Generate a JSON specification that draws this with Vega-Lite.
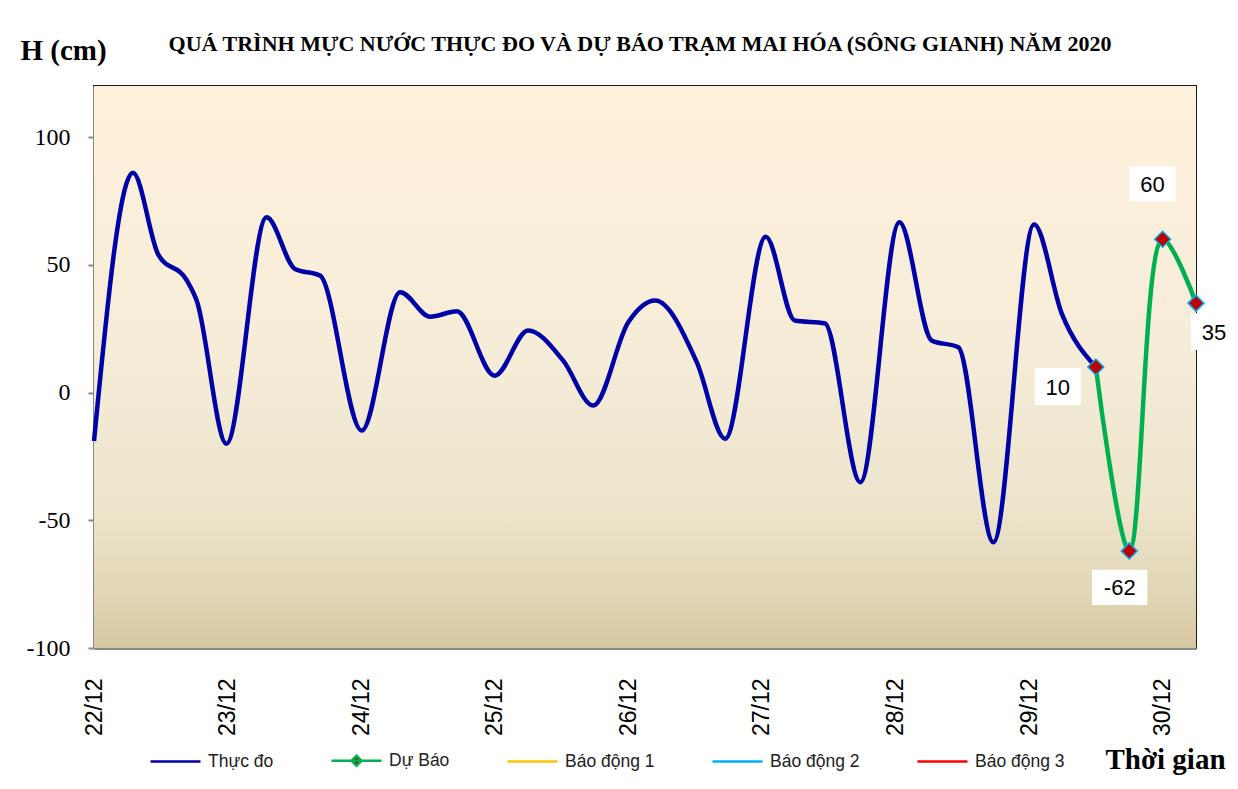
{
  "$schema": "https://vega.github.io/schema/vega-lite/v6.json",
  "autosize": "none",
  "width": 1102,
  "height": 562,
  "padding": {"left": 94, "top": 86, "right": 42, "bottom": 141},
  "background": "white",
  "config": {
    "view": {"stroke": "#1a1a1a", "strokeWidth": 2}
  },
  "title": {
    "text": "QUÁ TRÌNH MỰC NƯỚC THỰC ĐO VÀ DỰ BÁO TRẠM MAI HÓA (SÔNG GIANH) NĂM  2020",
    "font": "Liberation Serif",
    "fontSize": 22,
    "fontWeight": "bold",
    "color": "#000000",
    "anchor": "middle",
    "frame": "group",
    "dx": -5,
    "offset": -20
  },
  "datasets": {
    "obs": [
      {"h": 0, "v": -19},
      {"h": 7, "v": 86},
      {"h": 11.55, "v": 54},
      {"h": 16.65, "v": 44},
      {"h": 18.45, "v": 36},
      {"h": 23.8, "v": -20},
      {"h": 31, "v": 68.6},
      {"h": 36.1, "v": 48.4},
      {"h": 40.6, "v": 45.8},
      {"h": 48.1, "v": -14.9},
      {"h": 55, "v": 39.3},
      {"h": 60.4, "v": 29.7},
      {"h": 65.2, "v": 31.8},
      {"h": 72, "v": 6.6},
      {"h": 78, "v": 24.3},
      {"h": 84.3, "v": 12.5},
      {"h": 89.7, "v": -5.1},
      {"h": 96, "v": 27.5},
      {"h": 100.8, "v": 36},
      {"h": 108.3, "v": 11.9},
      {"h": 113.4, "v": -18.1},
      {"h": 120.7, "v": 61},
      {"h": 125.9, "v": 28.2},
      {"h": 131.3, "v": 27.1},
      {"h": 137.7, "v": -35.1},
      {"h": 144.7, "v": 66.7},
      {"h": 150.5, "v": 20.4},
      {"h": 155.3, "v": 17.7},
      {"h": 161.6, "v": -58.6},
      {"h": 168.9, "v": 65.8},
      {"h": 173.9, "v": 30.8},
      {"h": 180, "v": 10}
    ],
    "fc": [
      {"h": 180, "v": 10},
      {"h": 186, "v": -62},
      {"h": 192, "v": 60},
      {"h": 198, "v": 35}
    ]
  },
  "layer": [
    {
      "data": {"values": [{}]},
      "mark": {"type": "rect", "color": {"gradient": "linear", "x1": 0, "y1": 0, "x2": 0, "y2": 1,
        "stops": [
          {"offset": 0, "color": "#FEF1DC"},
          {"offset": 0.5, "color": "#F5ECD8"},
          {"offset": 0.75, "color": "#EDE4CC"},
          {"offset": 0.9, "color": "#E1D6B6"},
          {"offset": 1, "color": "#D6C8A0"}
        ]}},
      "encoding": {
        "x": {"datum": 0, "type": "quantitative"},
        "x2": {"datum": 198},
        "y": {"datum": 120, "type": "quantitative"},
        "y2": {"datum": -100}
      }
    },
    {
      "data": {"name": "obs"},
      "mark": {"type": "line", "interpolate": "monotone", "strokeWidth": 4.5},
      "encoding": {
        "x": {
          "field": "h", "type": "quantitative",
          "scale": {"domain": [0, 198], "nice": false, "zero": false},
          "axis": {
            "values": [0, 6, 12, 18, 24, 30, 36, 42, 48, 54, 60, 66, 72, 78, 84, 90, 96, 102, 108, 114, 120, 126, 132, 138, 144, 150, 156, 162, 168, 174, 180, 186, 192, 198],
            "labelExpr": "datum.value % 24 == 0 ? (22 + datum.value / 24) + '/12' : ''",
            "labelAngle": -90,
            "labelAlign": "right",
            "labelBaseline": "middle",
            "labelFont": "Liberation Sans",
            "labelFontSize": 23,
            "labelColor": "#000000",
            "labelPadding": 36,
            "labelOverlap": false,
            "labelFlush": false,
            "tickSize": -6,
            "tickColor": "#888888",
            "tickWidth": 1.5,
            "domainColor": "#888888",
            "domainWidth": 3,
            "grid": false,
            "title": "Thời gian",
            "titleX": 1011,
            "titleY": 120,
            "titleAlign": "left",
            "titleBaseline": "alphabetic",
            "titleFont": "Liberation Serif",
            "titleFontSize": 29,
            "titleFontWeight": "bold",
            "titleColor": "#000000"
          }
        },
        "y": {
          "field": "v", "type": "quantitative",
          "scale": {"domain": [-100, 120], "nice": false, "zero": false},
          "axis": {
            "values": [-100, -50, 0, 50, 100],
            "labelExpr": "'' + datum.value",
            "labelFont": "Liberation Serif",
            "labelFontSize": 24,
            "labelColor": "#000000",
            "labelPadding": 18,
            "tickSize": 6,
            "tickColor": "#888888",
            "tickWidth": 2,
            "domainColor": "#888888",
            "domainWidth": 3,
            "grid": false,
            "title": "H (cm)",
            "titleAngle": 0,
            "titleX": -74,
            "titleY": -27,
            "titleAlign": "left",
            "titleBaseline": "alphabetic",
            "titleFont": "Liberation Serif",
            "titleFontSize": 29,
            "titleFontWeight": "bold",
            "titleColor": "#000000"
          }
        },
        "color": {
          "datum": "Thực đo",
          "type": "nominal",
          "scale": {
            "domain": ["Thực đo", "Dự Báo", "Báo động 1", "Báo động 2", "Báo động 3"],
            "range": ["#0000A8", "#00B050", "#FFC000", "#00B0F0", "#FF0000"]
          },
          "legend": {
            "title": null,
            "orient": "none",
            "legendX": 55,
            "legendY": 648,
            "direction": "horizontal",
            "symbolType": "stroke",
            "symbolSize": 2500,
            "symbolStrokeWidth": 2.5,
            "labelFont": "Liberation Sans",
            "labelFontSize": 17.5,
            "labelColor": "#222222",
            "labelOffset": 6,
            "columnPadding": 52,
            "padding": 0,
            "encode": {
              "symbols": {
                "update": {
                  "shape": {"signal": "datum.value === 'Dự Báo' ? 'M-1,0H1M0,-0.2L0.2,0L0,0.2L-0.2,0Z' : 'stroke'"},
                  "fill": {"signal": "datum.value === 'Dự Báo' ? '#C00000' : 'transparent'"}
                }
              }
            }
          }
        }
      }
    },
    {
      "data": {"name": "fc"},
      "mark": {"type": "line", "interpolate": "catmull-rom", "strokeWidth": 4.5},
      "encoding": {
        "x": {"field": "h", "type": "quantitative"},
        "y": {"field": "v", "type": "quantitative"},
        "color": {"datum": "Dự Báo", "type": "nominal"}
      }
    },
    {
      "data": {"name": "fc"},
      "mark": {"type": "point", "shape": "diamond", "filled": true, "size": 256, "fill": "#C00000", "stroke": "#00B0F0", "strokeWidth": 1.5, "opacity": 1},
      "encoding": {
        "x": {"field": "h", "type": "quantitative"},
        "y": {"field": "v", "type": "quantitative"}
      }
    },
    {
      "data": {"name": "fc"},
      "transform": [{"filter": "datum.v === 10"}],
      "encoding": {
        "x": {"field": "h", "type": "quantitative"},
        "y": {"field": "v", "type": "quantitative"}
      },
      "layer": [
        {"mark": {"type": "point", "shape": "M-1.15,-0.92H1.15V0.92H-1.15Z", "size": 1600, "filled": true, "color": "white", "opacity": 1, "xOffset": -38, "yOffset": 19.5}},
        {"mark": {"type": "text", "font": "Liberation Sans", "fontSize": 22, "color": "#000000", "dx": -38, "dy": 20.5, "baseline": "middle"}, "encoding": {"text": {"field": "v"}}}
      ]
    },
    {
      "data": {"name": "fc"},
      "transform": [{"filter": "datum.v === -62"}],
      "encoding": {
        "x": {"field": "h", "type": "quantitative"},
        "y": {"field": "v", "type": "quantitative"}
      },
      "layer": [
        {"mark": {"type": "point", "shape": "M-1.38,-0.88H1.38V0.88H-1.38Z", "size": 1600, "filled": true, "color": "white", "opacity": 1, "xOffset": -9.5, "yOffset": 36.5}},
        {"mark": {"type": "text", "font": "Liberation Sans", "fontSize": 22, "color": "#000000", "dx": -9.5, "dy": 37.5, "baseline": "middle"}, "encoding": {"text": {"field": "v"}}}
      ]
    },
    {
      "data": {"name": "fc"},
      "transform": [{"filter": "datum.v === 60"}],
      "encoding": {
        "x": {"field": "h", "type": "quantitative"},
        "y": {"field": "v", "type": "quantitative"}
      },
      "layer": [
        {"mark": {"type": "point", "shape": "M-1.15,-0.88H1.15V0.88H-1.15Z", "size": 1600, "filled": true, "color": "white", "opacity": 1, "xOffset": -10, "yOffset": -55.5}},
        {"mark": {"type": "text", "font": "Liberation Sans", "fontSize": 22, "color": "#000000", "dx": -10, "dy": -54.5, "baseline": "middle"}, "encoding": {"text": {"field": "v"}}}
      ]
    },
    {
      "data": {"name": "fc"},
      "transform": [{"filter": "datum.v === 35"}],
      "encoding": {
        "x": {"field": "h", "type": "quantitative"},
        "y": {"field": "v", "type": "quantitative"}
      },
      "layer": [
        {"mark": {"type": "point", "shape": "M-1.15,-0.92H1.15V0.92H-1.15Z", "size": 1600, "filled": true, "color": "white", "opacity": 1, "xOffset": 18, "yOffset": 28.5}},
        {"mark": {"type": "text", "font": "Liberation Sans", "fontSize": 22, "color": "#000000", "dx": 18, "dy": 29.5, "baseline": "middle"}, "encoding": {"text": {"field": "v"}}}
      ]
    }
  ]
}
